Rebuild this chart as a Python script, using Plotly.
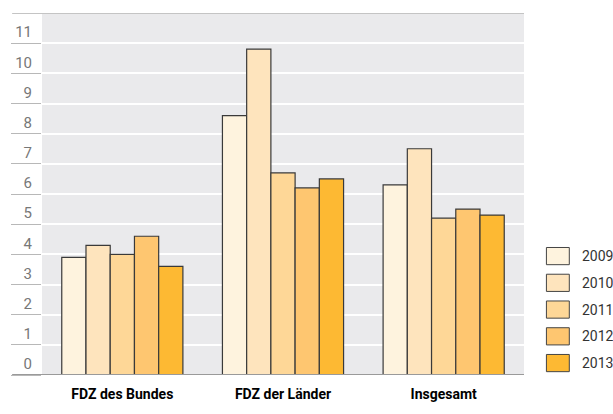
import plotly.graph_objects as go

# Data
categories = ["FDZ des Bundes", "FDZ der Länder", "Insgesamt"]
years = ["2009", "2010", "2011", "2012", "2013"]
values = {
    "2009": [3.9, 8.6, 6.3],
    "2010": [4.3, 10.8, 7.5],
    "2011": [4.0, 6.7, 5.2],
    "2012": [4.6, 6.2, 5.5],
    "2013": [3.6, 6.5, 5.3],
}
colors = ["#FEF3DE", "#FEE4BD", "#FED797", "#FEC670", "#FDB933"]
y_ticks = list(range(0, 12))
y_tick_text = [str(v) for v in y_ticks]

FONT = "Roboto, DejaVu Sans, sans-serif"

fig = go.Figure()
for yr, col in zip(years, colors):
    fig.add_trace(go.Bar(
        x=categories, y=values[yr], name=yr,
        marker=dict(color=col, line=dict(color="#3a3a3a", width=1.2)),
        showlegend=False,
    ))

W, H = 613, 414
ml, mr, mt, mb = 40, 89, 13, 22
pw = W - ml - mr
ph = H - mt - mb

shapes = []
# top frame line and baseline across the label gutter
for yv, col in [(12, "#c4c4c4"), (0, "#9a9a9a")]:
    shapes.append(dict(type="line", xref="paper", yref="y",
                       x0=-30 / pw, x1=1, y0=yv, y1=yv,
                       line=dict(color=col, width=2)))

# legend boxes drawn as shapes with annotations
annotations = []
box_w, box_h, step = 23, 18, 28
lx0 = (546.5 - ml) / pw
lx1 = lx0 + box_w / pw
first_c = 267.5
for i, (yr, col) in enumerate(zip(years, colors)):
    cy = first_c + i * step
    y0 = 1 - (cy - box_h / 2 - mt) / ph
    y1 = 1 - (cy + box_h / 2 - mt) / ph
    shapes.append(dict(type="rect", xref="paper", yref="paper",
                       x0=lx0, x1=lx1, y0=y0, y1=y1,
                       fillcolor=col, line=dict(color="#444", width=1)))
    annotations.append(dict(xref="paper", yref="paper",
                            x=(580 - ml) / pw, y=1 - (cy - mt) / ph,
                            xanchor="left", yanchor="middle",
                            text=yr, showarrow=False,
                            font=dict(family=FONT, size=14, color="#333")))

fig.update_layout(
    width=W, height=H,
    margin=dict(l=ml, r=mr, t=mt, b=mb),
    paper_bgcolor="white",
    plot_bgcolor="#EAEAEC",
    barmode="group",
    bargap=0.246,
    bargroupgap=0,
    shapes=shapes,
    annotations=annotations,
    xaxis=dict(
        showgrid=False, zeroline=False, showline=False,
        ticks="outside", ticklen=6, tickcolor="rgba(0,0,0,0)",
        tickfont=dict(family=FONT, size=14, color="#000", weight="bold"),
        fixedrange=True,
    ),
    yaxis=dict(
        range=[0, 12], tickvals=y_ticks, ticktext=y_tick_text,
        showgrid=True, gridcolor="white", gridwidth=2,
        zeroline=False, showline=False,
        ticks="outside", ticklen=30, tickcolor="#b8b8b8", tickwidth=1,
        ticklabelstandoff=-24, ticklabelshift=-11,
        tickfont=dict(family=FONT, size=15, color="#777"),
        fixedrange=True,
    ),
)

fig.write_html("out.html")
